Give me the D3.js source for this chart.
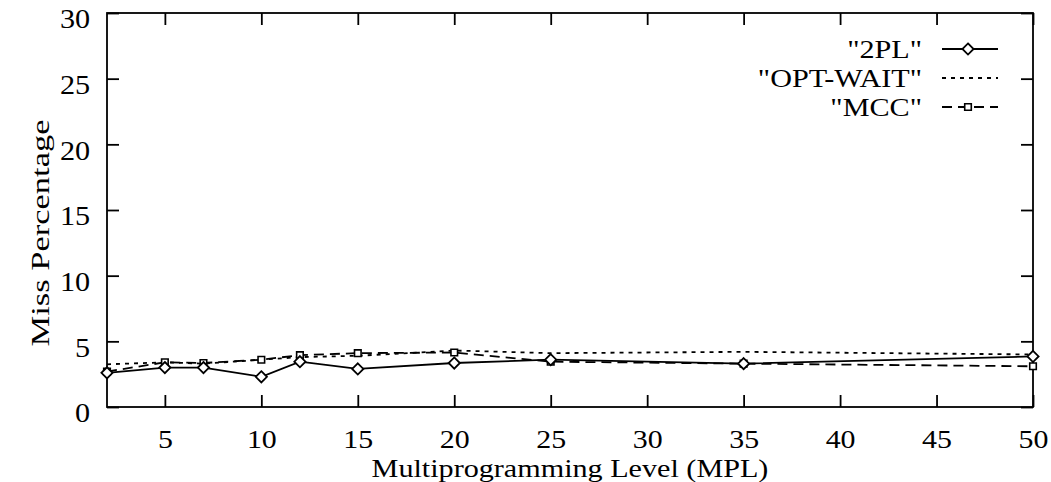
<!DOCTYPE html>
<html>
<head>
<meta charset="utf-8">
<script src="https://cdn.jsdelivr.net/npm/d3@7"></script>
<style>
  html, body { margin: 0; padding: 0; background: #fff; }
  svg { display: block; }
  text { font-family: "Liberation Serif", "Times New Roman", serif; fill: #000; }
</style>
</head>
<body>
<svg id="chart" width="1051" height="482"></svg>
<script>
// Multiprogramming levels at which the miss percentage was measured
const mplLevels = [2, 5, 7, 10, 12, 15, 20, 25, 35, 50];

// Miss percentage per protocol
const twoPL   = [2.6, 3.0, 3.0, 2.3, 3.45, 2.9, 3.35, 3.6, 3.3, 3.85];
const optWait = [3.25, 3.4, 3.3, 3.6, 3.8, 3.9, 4.3, 4.1, 4.2, 4.0];
const mcc     = [2.7, 3.4, 3.35, 3.6, 3.95, 4.1, 4.15, 3.45, 3.3, 3.1];

const xTicks = [5, 10, 15, 20, 25, 30, 35, 40, 45, 50];
const yTicks = [0, 5, 10, 15, 20, 25, 30];

const seriesNames = ['"2PL"', '"OPT-WAIT"', '"MCC"'];

const svg = d3.select("#chart");
const W = 1051, H = 482;
const m = { left: 107, right: 18, top: 13, bottom: 75 };

const x = d3.scaleLinear().domain([2, 50]).range([m.left, W - m.right]);
const y = d3.scaleLinear().domain([0, 30]).range([H - m.bottom, m.top]);

const tickLen = 12;
const stroke = 1.8;

// Frame
svg.append("rect")
  .attr("x", x(2)).attr("y", y(30))
  .attr("width", x(50) - x(2)).attr("height", y(0) - y(30))
  .attr("fill", "none").attr("stroke", "#000").attr("stroke-width", stroke);

function styleAxis(g) {
  g.select(".domain").remove();
  g.selectAll(".tick line").attr("stroke", "#000").attr("stroke-width", stroke);
}

// Bottom axis with inward ticks
const xAxis = svg.append("g")
  .attr("transform", `translate(0,${y(0)})`)
  .call(d3.axisBottom(x).tickValues(xTicks).tickSizeInner(-tickLen).tickSizeOuter(0).tickPadding(0));
styleAxis(xAxis);
xAxis.selectAll(".tick text")
  .attr("y", 41).attr("dy", null)
  .attr("font-size", 26)
  .attr("transform", "scale(1.15,1)");

// Top mirrored ticks
const xTop = svg.append("g")
  .attr("transform", `translate(0,${y(30)})`)
  .call(d3.axisTop(x).tickValues(xTicks).tickSizeInner(-tickLen).tickSizeOuter(0).tickFormat(""));
styleAxis(xTop);

// Left axis with inward ticks
const yAxis = svg.append("g")
  .attr("transform", `translate(${x(2)},0)`)
  .call(d3.axisLeft(y).tickValues(yTicks).tickSizeInner(-tickLen).tickSizeOuter(0).tickPadding(0));
styleAxis(yAxis);
yAxis.selectAll(".tick text")
  .attr("x", -15).attr("dy", "0.55em")
  .attr("font-size", 27)
  .attr("transform", "scale(1.12,1)");

// Right mirrored ticks
const yRight = svg.append("g")
  .attr("transform", `translate(${x(50)},0)`)
  .call(d3.axisRight(y).tickValues(yTicks).tickSizeInner(-tickLen).tickSizeOuter(0).tickFormat(""));
styleAxis(yRight);

// Axis titles
svg.append("text")
  .attr("transform", `translate(49,233) rotate(-90)`)
  .attr("text-anchor", "middle")
  .attr("font-size", 26)
  .attr("textLength", 227).attr("lengthAdjust", "spacingAndGlyphs")
  .text("Miss Percentage");

svg.append("text")
  .attr("x", (x(2) + x(50)) / 2).attr("y", 477)
  .attr("text-anchor", "middle")
  .attr("font-size", 26)
  .attr("transform-origin", `${(x(2) + x(50)) / 2} 0`)
  .attr("transform", "scale(1.16,1)")
  .text("Multiprogramming Level (MPL)");

// Series
const line = d3.line().x(d => x(d[0])).y(d => y(d[1]));
const zip = vals => mplLevels.map((v, i) => [v, vals[i]]);

const plot = svg.append("g");

plot.append("path").datum(zip(optWait))
  .attr("d", line).attr("fill", "none").attr("stroke", "#000")
  .attr("stroke-width", 1.8).attr("stroke-dasharray", "4,5");

plot.append("path").datum(zip(mcc))
  .attr("d", line).attr("fill", "none").attr("stroke", "#000")
  .attr("stroke-width", 1.8).attr("stroke-dasharray", "10,6");

plot.append("path").datum(zip(twoPL))
  .attr("d", line).attr("fill", "none").attr("stroke", "#000")
  .attr("stroke-width", 1.8);

const diamond = d3.symbol().type(d3.symbolDiamond2).size(80);
const square = d3.symbol().type(d3.symbolSquare2).size(55);

plot.selectAll(".pt-mcc").data(zip(mcc)).join("path")
  .attr("class", "pt-mcc")
  .attr("transform", d => `translate(${x(d[0])},${y(d[1])})`)
  .attr("d", square).attr("fill", "#fff").attr("stroke", "#000").attr("stroke-width", 1.6);

plot.selectAll(".pt-2pl").data(zip(twoPL)).join("path")
  .attr("class", "pt-2pl")
  .attr("transform", d => `translate(${x(d[0])},${y(d[1])})`)
  .attr("d", diamond).attr("fill", "#fff").attr("stroke", "#000").attr("stroke-width", 1.8);

// Legend
const legY = [49, 78, 107];
const legTextX = 922, legX0 = 942, legX1 = 998, legMid = 968;
const leg = svg.append("g");
seriesNames.forEach((name, i) => {
  leg.append("text")
    .attr("x", legTextX).attr("y", legY[i]).attr("dy", "0.35em")
    .attr("text-anchor", "end").attr("font-size", 26)
    .attr("transform-origin", `${legTextX} 0`)
    .attr("transform", "scale(1.16,1)")
    .text(name);
});
leg.append("line").attr("x1", legX0).attr("x2", legX1).attr("y1", legY[0]).attr("y2", legY[0])
  .attr("stroke", "#000").attr("stroke-width", 1.8);
leg.append("path").attr("transform", `translate(${legMid},${legY[0]})`)
  .attr("d", diamond).attr("fill", "#fff").attr("stroke", "#000").attr("stroke-width", 1.8);
leg.append("line").attr("x1", legX0).attr("x2", legX1).attr("y1", legY[1]).attr("y2", legY[1])
  .attr("stroke", "#000").attr("stroke-width", 1.8).attr("stroke-dasharray", "4,5");
leg.append("line").attr("x1", legX0).attr("x2", legX1).attr("y1", legY[2]).attr("y2", legY[2])
  .attr("stroke", "#000").attr("stroke-width", 1.8).attr("stroke-dasharray", "10,6");
leg.append("path").attr("transform", `translate(${legMid},${legY[2]})`)
  .attr("d", square).attr("fill", "#fff").attr("stroke", "#000").attr("stroke-width", 1.6);
</script>
</body>
</html>
